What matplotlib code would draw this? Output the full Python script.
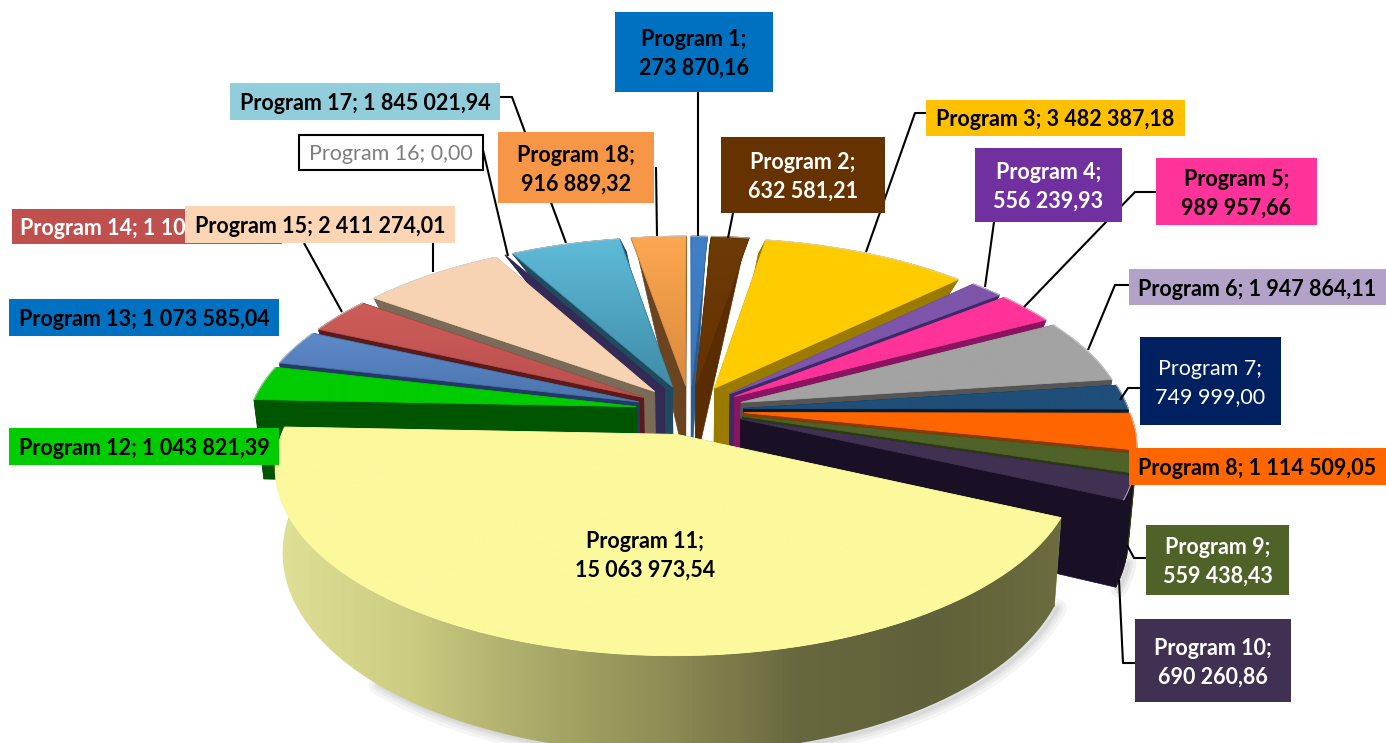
import numpy as np
import matplotlib
matplotlib.use("Agg")
import matplotlib.pyplot as plt
from matplotlib.colors import to_rgb
from matplotlib.patches import Polygon, Rectangle

# 1. Data
programs = ["Program %d" % i for i in range(1, 19)]
values = [273870.16, 632581.21, 3482387.18, 556239.93, 989957.66, 1947864.11,
          749999.00, 1114509.05, 559438.43, 690260.86, 15063973.54, 1043821.39,
          1073585.04, 1100000.00, 2411274.01, 0.00, 1845021.94, 916889.32]

# 2. Colours (top start, top end, side)
top_a = ["#3f80c8", "#6e3a06", "#ffcc00", "#7d55aa", "#ff3399", "#a3a3a3",
         "#1f4e79", "#ff6600", "#4f6228", "#403152", "#fbf99c", "#00cc00",
         "#5e8aca", "#cd5c5a", "#f8d3b3", "#403a70", "#5ebbd8", "#fda851"]
top_b = ["#3a76b8", "#663300", "#ffcc00", "#7d55aa", "#ff3399", "#a3a3a3",
         "#1f4e79", "#ff6600", "#4f6228", "#403152", "#fbf99c", "#00cc00",
         "#4a74ac", "#b9504e", "#f8d3b3", "#403a70", "#3f8ca8", "#d98a3c"]
side = ["#2b5c8f", "#5a2d00", "#9a7b00", "#3a2a6a", "#8a1460", "#555555",
        "#0a1a2a", "#8a3a00", "#2c3a10", "#1a1026", "#8a8a50", "#005500",
        "#243a66", "#5a1a1a", "#7a6a58", "#332a55", "#1f4a60", "#6a4420"]
rim_stops = ["#e0e096", "#cccc82", "#aaaa6a", "#8c8c54", "#686840", "#60603a", "#6c6c40"]

# 3. Label boxes: x0, y0, x1, y1, fill, text colour, weight
boxes = [(615, 12, 773, 92, "#0070c0", "black", "bold"),
         (721, 137, 885, 213, "#663300", "white", "bold"),
         (926, 100, 1185, 136, "#ffc000", "black", "bold"),
         (975, 148, 1122, 222, "#7030a0", "white", "bold"),
         (1156, 158, 1317, 225, "#ff3399", "black", "bold"),
         (1129, 269, 1386, 305, "#b3a2c7", "black", "bold"),
         (1140, 337, 1281, 425, "#002060", "white", "normal"),
         (1129, 448, 1386, 485, "#ff6600", "black", "bold"),
         (1146, 525, 1289, 595, "#4f6228", "white", "bold"),
         (1135, 619, 1291, 702, "#403152", "white", "bold"),
         None,
         (9, 428, 279, 465, "#00cc00", "black", "bold"),
         (9, 299, 279, 336, "#0070c0", "black", "bold"),
         (12, 209, 282, 244, "#c0504d", "white", "bold"),
         (185, 206, 455, 243, "#fcd5b5", "black", "bold"),
         (299, 135, 483, 170, "white", "#7f7f7f", "normal"),
         (230, 83, 500, 120, "#92cddc", "black", "bold"),
         (498, 132, 654, 203, "#f79646", "black", "bold")]
two_line = [0, 1, 3, 4, 6, 8, 9, 10, 17]
leaders = [[(698, 92), (698, 236)],
           [(733, 213), (728, 238)],
           [(926, 113), (915, 113), (866, 252)],
           [(994, 222), (985, 287)],
           [(1156, 192), (1135, 192), (1024, 307)],
           [(1129, 285), (1115, 285), (1088, 350)],
           [(1140, 388), (1128, 388), (1120, 400)],
           [(1146, 558), (1134, 558), (1127, 545)],
           [(1135, 663), (1123, 663), (1119, 580)],
           [(304, 243), (342, 312)],
           [(433, 243), (433, 272)],
           [(483, 150), (508, 256)],
           [(500, 97), (512, 97), (566, 243)],
           [(656, 167), (657, 236)]]

# 4. Pie geometry in pixels
CX, CY = 690, 410
R, EXPLODE = 385, 54
V_STOPS = [-440, 0, 100, 440]
D_STOPS = [98, 80, 78, 12]
FONT = 15.5


def project(u, v):
    # back half is squeezed a bit harder than the front, left side a bit wider
    q = np.where(v > 0, 0.15, 0.167) / 385
    k = np.where(v > 0, 0.464, 0.455)
    s = 1 / (1 + q * v)
    return CX + u * s * np.where(u < 0, 1.004, 1.0), CY - k * v * s


def lower(x, y, v):
    t = np.interp(v, [0, R], [0.018, 0.10])
    return CX + (x - CX) * (1 - t), y + np.interp(v, V_STOPS, D_STOPS)


def grad_fill(pts, stops, z, horizontal=False):
    pts = np.array(pts)
    x0, y0 = pts.min(axis=0)
    x1, y1 = pts.max(axis=0)
    rgb = np.array([to_rgb(c) for c in stops])
    pos = np.linspace(0, 1, 200)
    grad = np.stack([np.interp(pos, np.linspace(0, 1, len(rgb)), rgb[:, i]) for i in range(3)], axis=-1)
    grad = grad[None, :, :] if horizontal else grad[:, None, :]
    im = ax.imshow(grad, extent=(x0, x1, y1, y0), aspect="auto", zorder=z)
    clip = Polygon(pts, closed=True, transform=ax.transData)
    im.set_clip_path(clip)
    if not horizontal:
        ax.add_patch(Polygon(pts, closed=True, fc="none", ec=stops[-1], lw=0.6, zorder=z))


fig = plt.figure(figsize=(13.86, 7.43), dpi=100)
ax = fig.add_axes([0, 0, 1, 1])
plt.rcParams["font.family"] = ["Lato", "DejaVu Sans"]

vals = np.array(values)
edges = np.concatenate([[0], np.cumsum(vals)]) / vals.sum() * 2 * np.pi
mids = (edges[:-1] + edges[1:]) / 2

# back slices first, Program 11 last
order = sorted(range(len(vals)), key=lambda i: (i == 10, -np.cos(mids[i])))
z = 10
for i in order:
    th = np.linspace(edges[i], edges[i + 1], 80)
    au, av = EXPLODE * np.sin(mids[i]), EXPLODE * np.cos(mids[i])
    u = au + R * np.sin(th)
    v = av + R * np.cos(th)
    xa, ya = project(au, av)
    xr, yr = project(u, v)
    xa2, ya2 = lower(xa, ya, av)
    xr2, yr2 = lower(xr, yr, v)

    if i == 10:
        # soft shadow under the big slice
        for lw in [14, 9, 5, 2]:
            ax.plot(xr2[:55] + 3, yr2[:55] + 2, color="black", alpha=0.04, lw=lw, zorder=1, solid_capstyle="round")
    if i == 9:
        for lw in [12, 7, 3]:
            ax.plot(xr2 + 3, yr2 + 2, color="black", alpha=0.05, lw=lw, zorder=1, solid_capstyle="round")

    # radial walls
    for xe, ye, xe2, ye2 in [(xr[0], yr[0], xr2[0], yr2[0]), (xr[-1], yr[-1], xr2[-1], yr2[-1])]:
        ax.add_patch(Polygon([(xa, ya), (xe, ye), (xe2, ye2), (xa2, ya2)], closed=True,
                             fc=side[i], ec=side[i], lw=0.5, zorder=z))
    z += 1

    # outer wall
    wall = list(zip(xr, yr)) + list(zip(xr2[::-1], yr2[::-1]))
    if i == 10:
        grad_fill(wall, rim_stops, z, horizontal=True)
    else:
        ax.add_patch(Polygon(wall, closed=True, fc=side[i], ec=side[i], lw=0.5, zorder=z))
    z += 1

    # top face
    if vals[i] > 0:
        top = [(xa, ya)] + list(zip(xr, yr))
        grad_fill(top, [top_a[i], top_b[i]], z)
        if i != 10:
            ax.plot(xr, yr, color="#d8d8d8", lw=0.8, alpha=0.7, zorder=z)
    z += 1

# 5. Leader lines
for pts in leaders:
    xs, ys = zip(*pts)
    ax.plot(xs, ys, color="black", lw=1.5, zorder=500, solid_capstyle="butt")

# 6. Labels
for i, name in enumerate(programs):
    num = format(values[i], ",.2f").replace(",", " ").replace(".", ",")
    sep = "\n" if i in two_line else " "
    label = name + ";" + sep + num
    box = boxes[i]
    zb = 600 + 2 * i
    if box is None:
        ax.text(645, 556, label, ha="center", va="center", color="black", fontweight="bold",
                fontsize=FONT, linespacing=1.47, zorder=zb)
        continue
    x0, y0, x1, y1, fill, tc, weight = box
    edge = "black" if fill == "white" else fill
    ax.add_patch(Rectangle((x0, y0), x1 - x0, y1 - y0, fc=fill, ec=edge, lw=1.5 if fill == "white" else 0, zorder=zb))
    if i == 13:
        ax.text(x0 + 8, (y0 + y1) / 2 + 2, label, ha="left", va="center", color=tc, fontweight=weight,
                fontsize=FONT, zorder=zb + 1)
    else:
        ax.text((x0 + x1) / 2, (y0 + y1) / 2 + 2, label, ha="center", va="center", color=tc, fontweight=weight,
                fontsize=FONT, linespacing=1.47, zorder=zb + 1)

ax.set_xlim(0, 1386)
ax.set_ylim(743, 0)
ax.axis("off")
fig.savefig("out.png", dpi=100)
